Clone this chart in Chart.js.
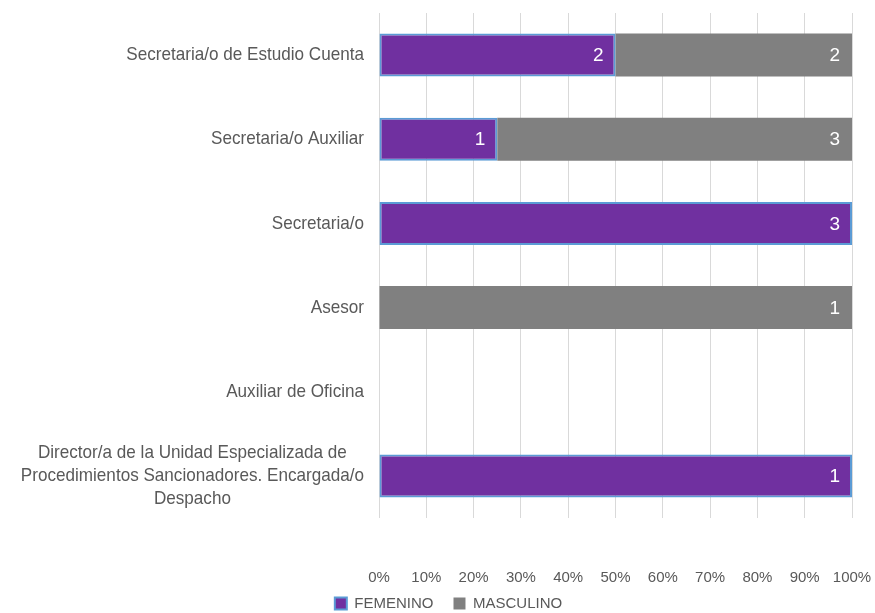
<!DOCTYPE html>
<html>
<head>
<meta charset="utf-8">
<script src="https://cdn.jsdelivr.net/npm/chart.js@4/dist/chart.umd.min.js"></script>
<style>
  html, body { margin: 0; padding: 0; background: #fff; }
  #wrap { width: 875px; height: 613px; }
</style>
</head>
<body>
<div id="wrap"><canvas id="chart"></canvas></div>
<script>
const categories = [
  ["Secretaria/o de Estudio Cuenta"],
  ["Secretaria/o Auxiliar"],
  ["Secretaria/o"],
  ["Asesor"],
  ["Auxiliar de Oficina"],
  ["Director/a de la Unidad Especializada de", "Procedimientos Sancionadores. Encargada/o", "Despacho"],
]
const femenino = [2, 1, 3, 0, 0, 1]
const masculino = [2, 3, 0, 1, 0, 0]
const seriesNames = ["FEMENINO", "MASCULINO"]

const FONT = "'Liberation Sans', Arial, sans-serif"
const TEXT = "#595959"

// 100% stacked: each row is split by its own total
const totals = femenino.map((f, i) => f + masculino[i])
const share = (arr) => arr.map((v, i) => totals[i] ? v / totals[i] * 100 : 0)

const counts = [femenino, masculino]

// white count labels at the inner right end of each segment
const barLabels = {
  id: "barLabels",
  afterDatasetsDraw(chart) {
    const ctx = chart.ctx
    ctx.save()
    ctx.font = "19px " + FONT
    ctx.fillStyle = "#ffffff"
    ctx.textAlign = "right"
    ctx.textBaseline = "middle"
    chart.data.datasets.forEach((ds, di) => {
      chart.getDatasetMeta(di).data.forEach((bar, i) => {
        const n = counts[di][i]
        if (!n) return
        ctx.fillText(String(n), bar.x - 12, bar.y + 1)
      })
    })
    ctx.restore()
  }
}

// category names: block right-aligned to the axis, lines centred inside it,
// squeezed a little horizontally
const categoryLabels = {
  id: "categoryLabels",
  afterDraw(chart) {
    const ctx = chart.ctx
    const y = chart.scales.y
    const right = chart.chartArea.left - 15
    const lineH = 23
    const sx = 0.9
    ctx.save()
    ctx.font = "19px " + FONT
    ctx.fillStyle = TEXT
    ctx.textAlign = "center"
    ctx.textBaseline = "middle"
    categories.forEach((lines, i) => {
      const maxW = Math.max(...lines.map(l => ctx.measureText(l).width)) * sx
      const cx = right - maxW / 2
      const cy = y.getPixelForValue(i)
      const top = cy - (lines.length - 1) * lineH / 2
      lines.forEach((l, k) => {
        ctx.save()
        ctx.translate(cx, top + k * lineH)
        ctx.scale(sx, 1)
        ctx.fillText(l, 0, 0)
        ctx.restore()
      })
    })
    ctx.restore()
  }
}

// percent labels well below the grid, under each x tick
const percentLabels = {
  id: "percentLabels",
  afterDraw(chart) {
    const ctx = chart.ctx
    const x = chart.scales.x
    const yPos = chart.chartArea.bottom + 60
    ctx.save()
    ctx.font = "15px " + FONT
    ctx.fillStyle = TEXT
    ctx.textAlign = "center"
    ctx.textBaseline = "middle"
    x.ticks.forEach(t => ctx.fillText(t.value + "%", x.getPixelForValue(t.value), yPos))
    ctx.restore()
  }
}

new Chart(document.getElementById("chart"), {
  type: "bar",
  data: {
    labels: categories,
    datasets: [
      {
        label: seriesNames[0],
        data: share(femenino),
        backgroundColor: "#7030A0",
        borderColor: "#5B9BD5",
        borderWidth: 2,
        borderSkipped: false,
      },
      {
        label: seriesNames[1],
        data: share(masculino),
        backgroundColor: "#808080",
        borderWidth: 0,
      },
    ],
  },
  options: {
    indexAxis: "y",
    responsive: true,
    maintainAspectRatio: false,
    animation: false,
    datasets: {
      bar: { categoryPercentage: 1, barPercentage: 0.51 },
    },
    layout: {
      padding: { top: 13, right: 23, left: 45, bottom: -8 },
    },
    scales: {
      x: {
        stacked: true,
        min: 0,
        max: 100,
        afterFit(scale) { scale.height = 58 },
        ticks: { stepSize: 10, display: false },
        grid: { color: "#d9d9d9", lineWidth: 1, drawTicks: false },
        border: { display: false },
      },
      y: {
        stacked: true,
        afterFit(scale) { scale.width = 334 },
        ticks: { display: false },
        grid: { display: false },
        border: { display: false },
      },
    },
    plugins: {
      legend: {
        position: "bottom",
        labels: {
          color: TEXT,
          font: { family: FONT, size: 15 },
          boxWidth: 12,
          boxHeight: 12,
          padding: 20,
        },
      },
      tooltip: { enabled: false },
    },
  },
  plugins: [barLabels, categoryLabels, percentLabels],
})
</script>
</body>
</html>
